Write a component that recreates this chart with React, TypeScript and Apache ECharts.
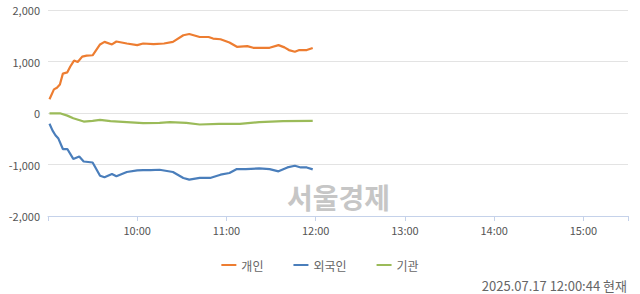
import React, { useEffect, useRef } from "react";
import * as echarts from "echarts";

// minutes since 09:00
const indivMin = [1, 4, 6, 8, 10, 13, 15, 17.5, 20, 23, 26, 30, 35, 38, 43, 46, 53, 60, 64, 71, 78, 84, 91, 95, 102, 108, 111, 116, 122, 127, 134, 138, 149, 155, 159, 162, 166, 169, 174, 178];
const indivVal = [267, 458, 491, 554, 764, 789, 903, 1018, 989, 1094, 1113, 1121, 1331, 1381, 1331, 1389, 1350, 1318, 1350, 1337, 1350, 1381, 1509, 1534, 1476, 1476, 1446, 1432, 1369, 1285, 1299, 1266, 1266, 1318, 1274, 1222, 1190, 1222, 1222, 1261];

const foreignMin = [1, 3, 5, 7, 10, 13, 17, 21, 24, 30, 35, 38, 43, 46, 53, 60, 64, 69, 75, 84, 91, 95, 102, 109, 116, 122, 127, 133, 142, 149, 155, 161, 166, 170, 174, 178];
const foreignVal = [-210, -338, -433, -497, -700, -700, -892, -846, -942, -961, -1217, -1248, -1184, -1228, -1146, -1114, -1108, -1108, -1102, -1146, -1261, -1293, -1261, -1261, -1198, -1165, -1089, -1089, -1076, -1089, -1133, -1057, -1025, -1057, -1057, -1095];

const instMin = [1, 8, 13, 17, 24, 30, 35, 42, 53, 64, 75, 82, 93, 102, 115, 129, 142, 158, 178];
const instVal = [-6, -6, -51, -101, -166, -153, -134, -159, -178, -197, -191, -178, -191, -223, -210, -210, -178, -159, -153];

const yTicks = [-2000, -1000, 0, 1000, 2000];
const hourLabels = ["09:00", "10:00", "11:00", "12:00", "13:00", "14:00", "15:00"];
const seriesNames = ["개인", "외국인", "기관"];
const timestamp = "2025.07.17 12:00:44 현재";
const watermark = "서울경제";

const zip = (xs: number[], ys: number[]) => xs.map((x, i) => [x, ys[i]]);

export default function App() {
  const ref = useRef<HTMLDivElement>(null);
  useEffect(() => {
    document.body.style.margin = "0";
    if (!ref.current) return;
    const chart = echarts.init(ref.current, undefined, { renderer: "svg" });
    const font = "'Noto Sans CJK KR', 'Noto Sans', sans-serif";
    const colors = ["#ED7D31", "#4A7EBB", "#9BBB59"];
    chart.setOption({
      animation: false,
      color: colors,
      textStyle: { fontFamily: font },
      grid: { left: 48, right: 12, top: 10, bottom: 78, containLabel: false },
      legend: {
        data: seriesNames,
        bottom: 18,
        left: "center",
        icon: "rect",
        itemWidth: 15,
        itemHeight: 2,
        itemGap: 30,
        textStyle: { color: "#666", fontSize: 12, fontFamily: font },
      },
      xAxis: {
        type: "value",
        min: 0,
        max: 390,
        interval: 60,
        axisLine: { show: true, onZero: false, lineStyle: { color: "#c5d2ea" } },
        axisTick: { show: true, length: 5, lineStyle: { color: "#c5d2ea" } },
        splitLine: { show: false },
        axisLabel: {
          color: "#555",
          fontSize: 11,
          margin: 8,
          fontFamily: font,
          formatter: (v: number) => (v === 0 ? "" : hourLabels[Math.round(v / 60)] ?? ""),
        },
      },
      yAxis: {
        type: "value",
        min: yTicks[0],
        max: yTicks[yTicks.length - 1],
        interval: 1000,
        axisLine: { show: false },
        axisTick: { show: false },
        splitLine: { lineStyle: { color: "#e3e3e3" } },
        axisLabel: {
          color: "#555",
          fontSize: 11,
          margin: 8,
          fontFamily: font,
          formatter: (v: number) => v.toLocaleString("en-US"),
        },
      },
      series: [
        { name: seriesNames[0], type: "line", data: zip(indivMin, indivVal), showSymbol: false, lineStyle: { width: 2.2 } },
        { name: seriesNames[1], type: "line", data: zip(foreignMin, foreignVal), showSymbol: false, lineStyle: { width: 2.2 } },
        { name: seriesNames[2], type: "line", data: zip(instMin, instVal), showSymbol: false, lineStyle: { width: 2.2 } },
      ],
      graphic: [
        {
          type: "text",
          left: 287,
          top: 183,
          z: 0,
          style: { text: watermark, fill: "#c6c6c6", font: `bold 28px ${font}` },
        },
        {
          type: "text",
          right: 13,
          bottom: 2,
          style: { text: timestamp, fill: "#666", font: `13px ${font}` },
        },
      ],
    });
    return () => chart.dispose();
  }, []);
  return <div ref={ref} style={{ width: 640, height: 294 }} />;
}
